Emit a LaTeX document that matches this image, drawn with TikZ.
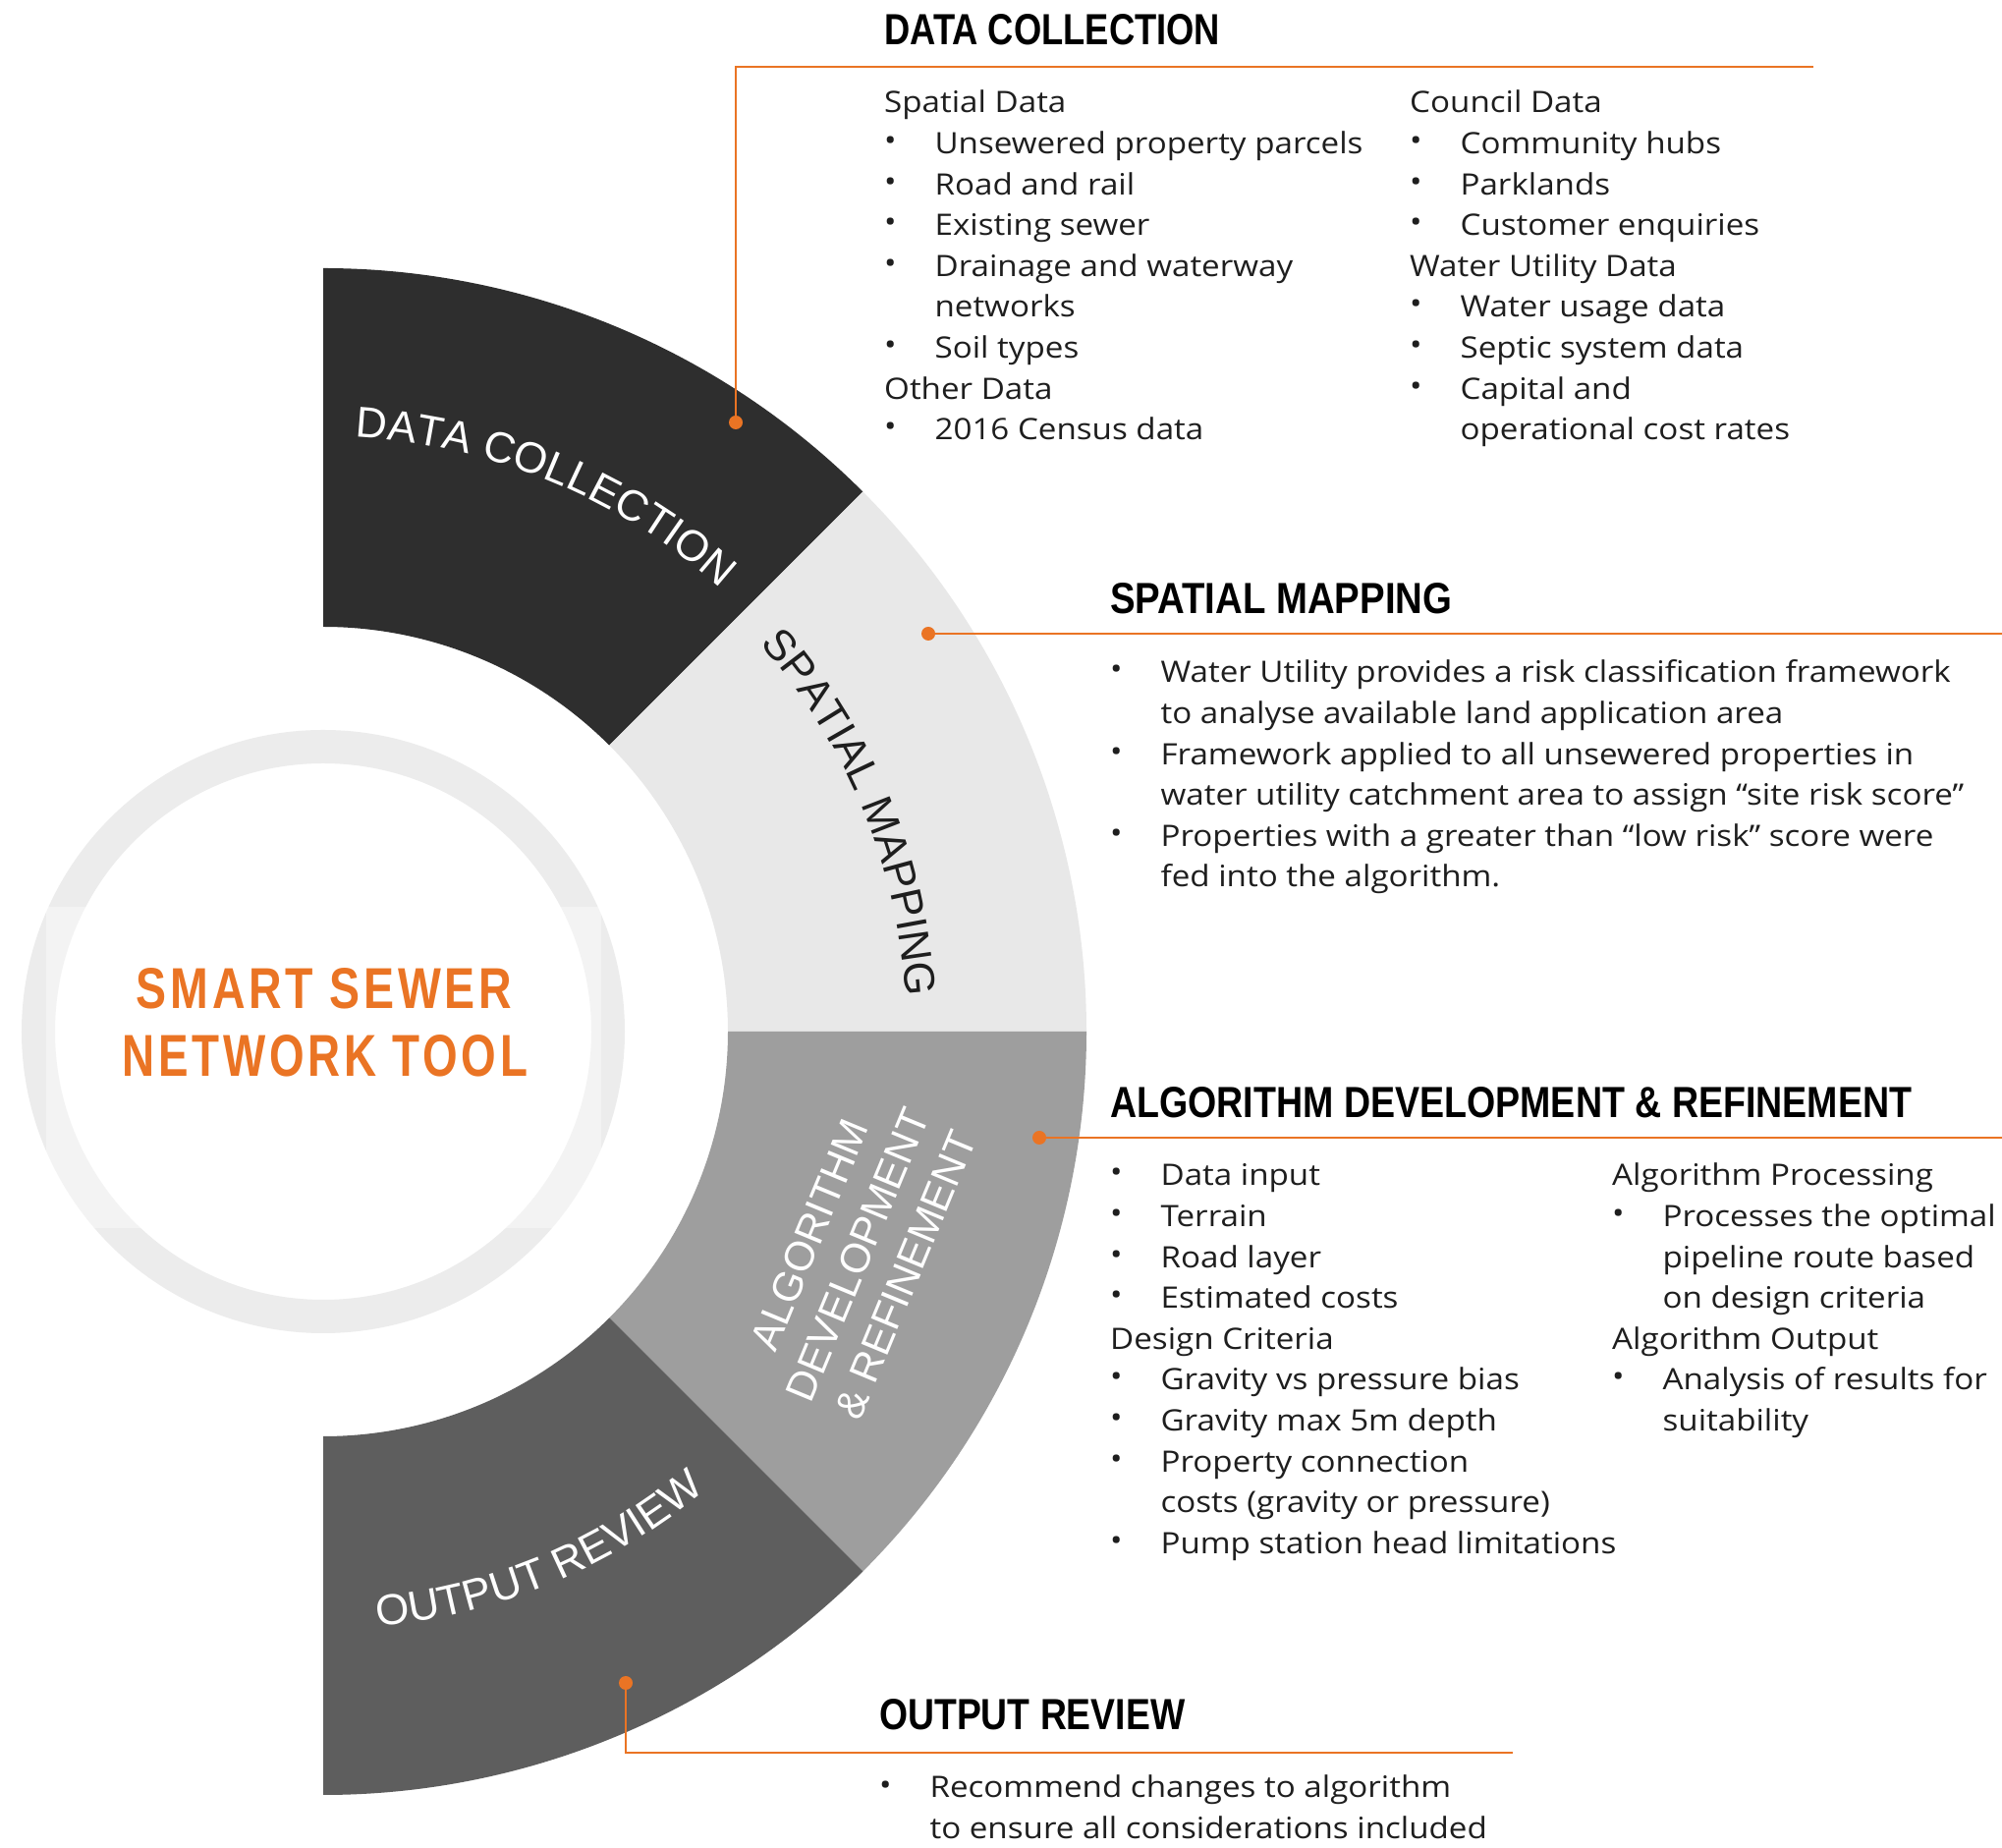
\documentclass[tikz,border=0pt]{standalone}
\usepackage{fontspec}
\usepackage{graphicx}
\setmainfont{Open Sans}
\newfontfamily\arf{Liberation Sans}
\usetikzlibrary{decorations.text}
\definecolor{org}{HTML}{EA7424}
\definecolor{segA}{HTML}{2E2E2E}
\definecolor{segB}{HTML}{E8E8E8}
\definecolor{segC}{HTML}{9E9E9E}
\definecolor{segD}{HTML}{5E5E5E}
\definecolor{ringc}{HTML}{ECECEC}
\definecolor{txt}{HTML}{1E1E1E}
\newcommand\bl{\makebox[46.5pt][l]{\raisebox{3pt}{•}}}
\newcommand\ind{\hspace*{46.5pt}}
\newcommand\ttl[2]{\resizebox{#1}{31pt}{\arf\bfseries #2}}
\newcommand\bodyblock[1]{\scalebox{1.105}[1]{\begin{tabular}[t]{@{}l@{}}#1\end{tabular}}}
\tikzset{
  body/.style={anchor=base west, inner sep=0pt, text=txt, font=\fontsize{30}{41.6}\selectfont},
  lead/.style={draw=org, line width=2.4pt},
  dotn/.style={circle, fill=org, inner sep=0pt, minimum size=14pt},
  ttlnode/.style={anchor=base west, inner sep=0pt, text=black},
}
\begin{document}
\begin{tikzpicture}[x=1pt,y=1pt]
\useasboundingbox (0,0) rectangle (2038,1880);
\fill[white] (0,0) rectangle (2038,1880);

% centre circle
\draw[ringc, line width=34pt] (329,830) circle[radius=290];
\fill[white, opacity=0.4] (47,630) rectangle (612,957);
\node[anchor=base, inner sep=0pt, text=org] (t1) at (330,853)
  {\resizebox{382pt}{41pt}{\arf\bfseries\addfontfeature{LetterSpace=8}SMART SEWER}};
\node[anchor=base, inner sep=0pt, text=org] (t2) at (331,784)
  {\resizebox{412pt}{42pt}{\arf\bfseries\addfontfeature{LetterSpace=8}NETWORK TOOL}};

% ring segments
\begin{scope}[shift={(329,830)}]
  \fill[segA] (90:777) arc[start angle=90, end angle=45, radius=777] -- (45:412) arc[start angle=45, end angle=90, radius=412] -- cycle;
  \fill[segB] (45:777) arc[start angle=45, end angle=0, radius=777] -- (0:412) arc[start angle=0, end angle=45, radius=412] -- cycle;
  \fill[segC] (0:777) arc[start angle=0, end angle=-45, radius=777] -- (-45:412) arc[start angle=-45, end angle=0, radius=412] -- cycle;
  \fill[segD] (-45:777) arc[start angle=-45, end angle=-90, radius=777] -- (-90:412) arc[start angle=-90, end angle=-45, radius=412] -- cycle;
  \path[decorate, decoration={text along path, text align=center, text color=white,
      text={|\arf\fontsize{44}{44}\selectfont|DATA COLLECTION}}]
      (110:606) arc[start angle=110, end angle=25, radius=606];
  \path[decorate, decoration={text along path, text align=center, text color=txt,
      text={|\arf\fontsize{44}{44}\selectfont|SPATIAL MAPPING}}]
      (65:594) arc[start angle=65, end angle=-20, radius=594];
  \path[decorate, decoration={text along path, text align=center, text color=white,
      text={|\arf\fontsize{44}{44}\selectfont|OUTPUT REVIEW}}]
      (-110:608) arc[start angle=-110, end angle=-25, radius=608];
\end{scope}
\node[rotate=67.5, align=center, text=white, inner sep=0pt, font=\arf\fontsize{42}{53}\selectfont] (alg) at (873,603)
  {ALGORITHM\\DEVELOPMENT\\\& REFINEMENT};

% leader dots and lines
\node[dotn] (d1) at (749,1450) {};
\node[dotn] (d2) at (945,1235) {};
\node[dotn] (d3) at (1058,722) {};
\node[dotn] (d4) at (637,167) {};
\coordinate (e1) at (1846,1812);
\coordinate (e2) at (2040,1235);
\coordinate (e3) at (2040,722);
\coordinate (e4) at (1540,96);
\draw[lead] (d1.center) |- (e1);
\draw[lead] (d2.center) -- (e2);
\draw[lead] (d3.center) -- (e3);
\draw[lead] (d4.center) |- (e4);

% titles
\node[ttlnode] (h1) at (900,1834) {\ttl{342pt}{DATA COLLECTION}};
\node[ttlnode] (h2) at (1130,1255) {\ttl{348pt}{SPATIAL MAPPING}};
\node[ttlnode] (h3) at (1130,742) {\ttl{816pt}{ALGORITHM DEVELOPMENT \& REFINEMENT}};
\node[ttlnode] (h4) at (895,119) {\ttl{311pt}{OUTPUT REVIEW}};

% body text
\node[body] (b1) at (900,1765) {\bodyblock{Spatial Data\\
\bl Unsewered property parcels\\
\bl Road and rail\\
\bl Existing sewer\\
\bl Drainage and waterway\\
\ind networks\\
\bl Soil types\\
Other Data\\
\bl 2016 Census data}};
\node[body] (b2) at (1435,1765) {\bodyblock{Council Data\\
\bl Community hubs\\
\bl Parklands\\
\bl Customer enquiries\\
Water Utility Data\\
\bl Water usage data\\
\bl Septic system data\\
\bl Capital and\\
\ind operational cost rates}};
\node[body] (b3) at (1130,1185) {\bodyblock{\bl Water Utility provides a risk classification framework\\
\ind to analyse available land application area\\
\bl Framework applied to all unsewered properties in\\
\ind water utility catchment area to assign “site risk score”\\
\bl Properties with a greater than “low risk” score were\\
\ind fed into the algorithm.}};
\node[body] (b4) at (1130,673) {\bodyblock{\bl Data input\\
\bl Terrain\\
\bl Road layer\\
\bl Estimated costs\\
Design Criteria\\
\bl Gravity vs pressure bias\\
\bl Gravity max 5m depth\\
\bl Property connection\\
\ind costs (gravity or pressure)\\
\bl Pump station head limitations}};
\node[body] (b5) at (1641,673) {\bodyblock{Algorithm Processing\\
\bl Processes the optimal\\
\ind pipeline route based\\
\ind on design criteria\\
Algorithm Output\\
\bl Analysis of results for\\
\ind suitability}};
\node[body] (b6) at (895,50) {\bodyblock{\bl Recommend changes to algorithm\\
\ind to ensure all considerations included}};
\end{tikzpicture}
\end{document}
